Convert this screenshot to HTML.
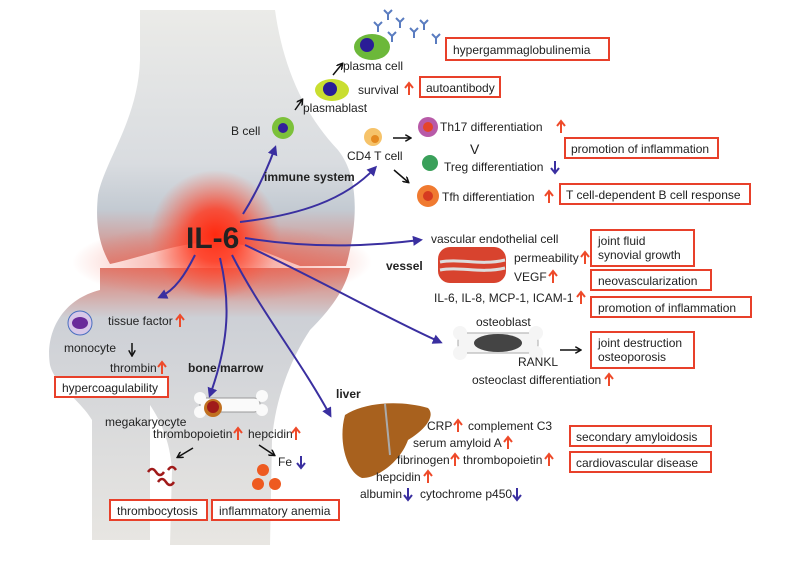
<!DOCTYPE html>
<html><head><meta charset="utf-8"><style>
body{margin:0;background:#fff}
svg text{font-family:"Liberation Sans",sans-serif;font-size:12px;fill:#222}
.b{font-weight:bold}
</style></head><body>
<svg width="790" height="561" viewBox="0 0 790 561" xmlns="http://www.w3.org/2000/svg">
<defs>
<linearGradient id="g1" x1="0" y1="0" x2="0" y2="1">
<stop offset="0" stop-color="#ebebe8"/><stop offset="0.6" stop-color="#d9dce0"/><stop offset="0.78" stop-color="#c3cad2"/><stop offset="1" stop-color="#dc7f73"/></linearGradient>
<linearGradient id="g2" x1="0" y1="0" x2="0" y2="1">
<stop offset="0" stop-color="#de7d70"/><stop offset="0.18" stop-color="#cdd0d6"/><stop offset="1" stop-color="#e8e6e2"/></linearGradient>
<radialGradient id="glow" cx="0.5" cy="0.5" r="0.5">
<stop offset="0" stop-color="#ff2a10"/><stop offset="0.4" stop-color="#ff3b22" stop-opacity="0.85"/><stop offset="1" stop-color="#ff5a40" stop-opacity="0"/></radialGradient>
<radialGradient id="band" cx="0.5" cy="0.5" r="0.5">
<stop offset="0" stop-color="#f05a48" stop-opacity="0.7"/><stop offset="1" stop-color="#f05a48" stop-opacity="0"/></radialGradient>
<marker id="ab" markerWidth="10" markerHeight="10" refX="7" refY="5" orient="auto" markerUnits="userSpaceOnUse"><path d="M0,0 L10,5 L0,10 Z" fill="#3a2fa0"/></marker>
<marker id="ak" markerWidth="7" markerHeight="7" refX="5" refY="3.5" orient="auto" markerUnits="userSpaceOnUse"><path d="M0,0 L6,3.5 L0,7" fill="none" stroke="#111" stroke-width="1.5"/></marker>
<g id="up"><path d="M0,6 L0,-5 M-4,-1 L0,-6 L4,-1" fill="none" stroke="#ee4a2a" stroke-width="2"/></g>
<g id="dn"><path d="M0,-6 L0,5 M-4,1 L0,6 L4,1" fill="none" stroke="#3a2fa0" stroke-width="2"/></g>
<g id="ig"><path d="M0,6 L0,0 L-4,-4 M0,0 L4,-4" fill="none" stroke="#5a7cc0" stroke-width="2"/></g>
</defs>
<path d="M140,10 L275,10 C282,60 300,110 338,150 C362,180 356,230 346,266 L300,266 C270,255 250,242 215,242 C180,242 150,255 110,264 C96,240 96,215 98,195 C105,160 138,120 140,60 Z" fill="url(#g1)"/>
<path d="M100,268 L350,268 C345,290 330,310 310,330 C290,360 275,400 272,440 L270,545 L170,545 L172,470 C170,440 160,420 150,405 L150,540 L92,540 L92,420 C80,400 55,385 50,365 C45,335 60,300 100,290 Z" fill="url(#g2)"/>
<ellipse cx="222" cy="262" rx="150" ry="40" fill="url(#band)"/>
<circle cx="215" cy="235" r="65" fill="url(#glow)"/>
<text x="186" y="248" class="b" style="font-size:30px;fill:#222">IL-6</text>
<g fill="none" stroke="#3a2fa0" stroke-width="2" marker-end="url(#ab)">
<path d="M243,214 C255,195 265,175 275,148"/>
<path d="M240,222 C300,215 345,200 375,168"/>
<path d="M245,238 C320,250 380,245 420,240"/>
<path d="M245,245 C320,280 390,320 440,342"/>
<path d="M232,255 C260,310 300,360 330,415"/>
<path d="M220,258 C230,300 230,340 210,395"/>
<path d="M195,255 C185,275 175,290 160,297"/>
</g>
<g fill="none" stroke="#111" stroke-width="1.5" marker-end="url(#ak)">
<path d="M295,110 L302,100"/><path d="M333,75 L342,64"/>
<path d="M393,138 L410,138"/><path d="M394,170 L408,182"/>
<path d="M132,343 L132,355"/><path d="M193,448 L178,457"/>
<path d="M259,445 L274,455"/><path d="M560,350 L580,350"/>
</g>
<circle cx="283" cy="128" r="11" fill="#7cc13a"/><circle cx="283" cy="128" r="5" fill="#33209a"/>
<ellipse cx="332" cy="90" rx="17" ry="11" fill="#c9de30"/><circle cx="330" cy="89" r="7" fill="#2a1d96"/>
<ellipse cx="372" cy="47" rx="18" ry="13" fill="#6cb83a"/><circle cx="367" cy="45" r="7" fill="#2a1d96"/>
<use href="#ig" x="378" y="26"/><use href="#ig" x="392" y="36"/><use href="#ig" x="400" y="22"/><use href="#ig" x="414" y="32"/><use href="#ig" x="424" y="24"/><use href="#ig" x="436" y="38"/><use href="#ig" x="388" y="14"/>
<circle cx="373" cy="137" r="9" fill="#f6c36a"/><circle cx="375" cy="139" r="4" fill="#e58a20"/>
<circle cx="428" cy="127" r="10" fill="#b85aa8"/><circle cx="428" cy="127" r="5" fill="#e5452a"/>
<circle cx="430" cy="163" r="8" fill="#3aa05a"/>
<circle cx="428" cy="196" r="11" fill="#f07a30"/><circle cx="428" cy="196" r="5" fill="#d63a20"/>
<circle cx="80" cy="323" r="12" fill="#d8c8e8" stroke="#4a6fc0"/><ellipse cx="80" cy="323" rx="8" ry="6" fill="#6a2a9a"/>
<rect x="438" y="247" width="68" height="36" rx="12" fill="#d8432e"/>
<path d="M440,262 C460,258 480,266 505,260 M440,270 C460,266 480,274 505,268" stroke="#ddd" stroke-width="3" fill="none"/>
<rect x="458" y="333" width="80" height="20" rx="8" fill="#f5f5f5" stroke="#aaa"/>
<circle cx="460" cy="333" r="7" fill="#f5f5f5"/><circle cx="460" cy="353" r="7" fill="#f5f5f5"/><circle cx="536" cy="333" r="7" fill="#f5f5f5"/><circle cx="536" cy="353" r="7" fill="#f5f5f5"/>
<ellipse cx="498" cy="343" rx="24" ry="9" fill="#444"/>
<rect x="200" y="398" width="60" height="14" rx="6" fill="#fafafa" stroke="#999"/>
<circle cx="200" cy="398" r="6" fill="#fafafa"/><circle cx="200" cy="412" r="6" fill="#fafafa"/><circle cx="262" cy="396" r="6" fill="#fafafa"/><circle cx="262" cy="410" r="6" fill="#fafafa"/>
<circle cx="213" cy="408" r="9" fill="#c07020"/><circle cx="213" cy="407" r="6" fill="#a01a1a"/>
<path d="M345,415 C365,402 400,400 428,408 C436,416 425,430 408,440 C400,462 378,478 362,478 C346,472 338,440 345,415 Z" fill="#a8611e"/>
<path d="M385,404 L390,455" stroke="#aaa" stroke-width="2"/>
<circle cx="263" cy="470" r="6" fill="#ee5a20"/><circle cx="258" cy="484" r="6" fill="#ee5a20"/><circle cx="275" cy="484" r="6" fill="#ee5a20"/>
<g stroke="#a01a1a" stroke-width="2.5" fill="none"><path d="M148,472 q4,-6 8,0 t8,0"/><path d="M158,482 q4,-6 8,0 t8,0"/><path d="M168,470 q4,-6 8,0"/></g>
<g>
<text x="231" y="135">B cell</text>
<text x="303" y="112">plasmablast</text>
<text x="343" y="70">plasma cell</text>
<text x="358" y="94">survival</text>
<text x="347" y="160">CD4 T cell</text>
<text x="264" y="181" class="b">immune  system</text>
<text x="440" y="131">Th17 differentiation</text>
<text x="470" y="154" style="font-size:14px">V</text>
<text x="444" y="171">Treg differentiation</text>
<text x="442" y="201">Tfh differentiation</text>
<text x="431" y="243">vascular endothelial cell</text>
<text x="386" y="270" class="b">vessel</text>
<text x="514" y="262">permeability</text>
<text x="514" y="281">VEGF</text>
<text x="434" y="302">IL-6, IL-8, MCP-1, ICAM-1</text>
<text x="476" y="326">osteoblast</text>
<text x="518" y="366">RANKL</text>
<text x="472" y="384">osteoclast differentiation</text>
<text x="108" y="325">tissue factor</text>
<text x="64" y="352">monocyte</text>
<text x="110" y="372">thrombin</text>
<text x="188" y="372" class="b">bone marrow</text>
<text x="105" y="426">megakaryocyte</text>
<text x="153" y="438">thrombopoietin</text>
<text x="248" y="438">hepcidin</text>
<text x="278" y="466">Fe</text>
<text x="336" y="398" class="b">liver</text>
<text x="427" y="430">CRP</text>
<text x="468" y="430">complement C3</text>
<text x="413" y="447">serum amyloid A</text>
<text x="397" y="464">fibrinogen</text>
<text x="463" y="464">thrombopoietin</text>
<text x="376" y="481">hepcidin</text>
<text x="360" y="498">albumin</text>
<text x="420" y="498">cytochrome p450</text>
</g>
<use href="#up" x="409" y="89"/>
<use href="#up" x="561" y="127"/>
<use href="#dn" x="555" y="167"/>
<use href="#up" x="549" y="197"/>
<use href="#up" x="585" y="258"/>
<use href="#up" x="553" y="277"/>
<use href="#up" x="581" y="298"/>
<use href="#up" x="609" y="380"/>
<use href="#up" x="180" y="321"/>
<use href="#up" x="162" y="368"/>
<use href="#up" x="238" y="434"/>
<use href="#up" x="296" y="434"/>
<use href="#dn" x="301" y="462"/>
<use href="#up" x="458" y="426"/>
<use href="#up" x="508" y="443"/>
<use href="#up" x="455" y="460"/>
<use href="#up" x="549" y="460"/>
<use href="#up" x="428" y="477"/>
<use href="#dn" x="408" y="494"/>
<use href="#dn" x="517" y="494"/>
<g fill="#fff" stroke="#e8402a" stroke-width="2">
<rect x="446" y="38" width="163" height="22"/>
<rect x="420" y="77" width="80" height="20"/>
<rect x="565" y="138" width="153" height="20"/>
<rect x="560" y="184" width="190" height="20"/>
<rect x="591" y="230" width="103" height="36"/>
<rect x="591" y="270" width="120" height="20"/>
<rect x="591" y="297" width="160" height="20"/>
<rect x="591" y="332" width="103" height="36"/>
<rect x="570" y="426" width="141" height="20"/>
<rect x="570" y="452" width="141" height="20"/>
<rect x="55" y="377" width="113" height="20"/>
<rect x="110" y="500" width="97" height="20"/>
<rect x="212" y="500" width="127" height="20"/>
</g>
<g>
<text x="453" y="54">hypergammaglobulinemia</text>
<text x="426" y="92">autoantibody</text>
<text x="571" y="153">promotion of inflammation</text>
<text x="566" y="199">T cell-dependent B cell response</text>
<text x="598" y="245">joint fluid</text>
<text x="598" y="259">synovial growth</text>
<text x="598" y="285">neovascularization</text>
<text x="598" y="312">promotion of inflammation</text>
<text x="598" y="347">joint destruction</text>
<text x="598" y="361">osteoporosis</text>
<text x="576" y="441">secondary amyloidosis</text>
<text x="576" y="467">cardiovascular disease</text>
<text x="62" y="392">hypercoagulability</text>
<text x="117" y="515">thrombocytosis</text>
<text x="219" y="515">inflammatory anemia</text>
</g>
</svg>
</body></html>
